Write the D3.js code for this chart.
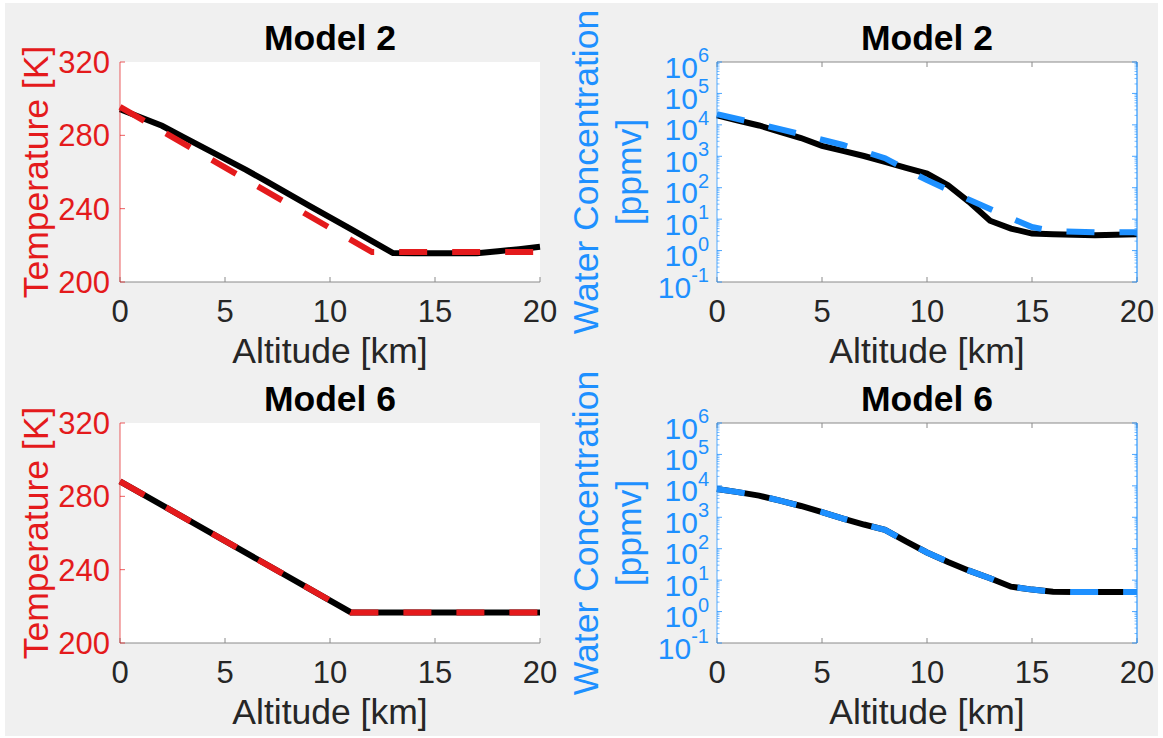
<!DOCTYPE html>
<html><head><meta charset="utf-8">
<script src="https://cdn.jsdelivr.net/npm/d3@7"></script>
<style>
body{margin:0;background:#fff}
svg{display:block}
text{font-family:"Liberation Sans",Arial,Helvetica,sans-serif}
</style>
</head><body>
<svg id="c" width="1163" height="738"></svg>
<script>
// ---------- data ----------
const altitudeTicks = [0, 5, 10, 15, 20];
const tempTicks = [200, 240, 280, 320];
const waterTickExps = [-1, 0, 1, 2, 3, 4, 5, 6];
const panelTitles = ["Model 2", "Model 6"];

// Model 2 temperature
const m2TempAlt = [0,1,2,3,4,5,6,7,8,9,10,11,12,13,14,15,16,17,18,19,20];
const m2TempModel = [294.2,289.7,285.2,279.2,273.2,267.2,261.2,254.7,248.2,241.7,235.3,228.8,222.3,215.8,215.7,215.7,215.7,215.7,216.8,217.9,219.2];
const m2TempFitAlt = [0, 12, 20];
const m2TempFit = [295.5, 216.3, 216.3];

// Model 6 temperature
const m6TempAlt = [0, 11, 20];
const m6TempModel = [288.2, 216.7, 216.7];
const m6TempFit = [288.2, 216.7, 216.7];

// Model 2 water (ppmv)
const m2WaterAlt = [0,1,2,3,4,5,6,7,8,9,10,11,12,13,14,15,16,17,18,19,20];
const m2WaterModel = [20000,13800,9550,6030,3800,2140,1480,1020,660,427,282,120,35.5,8.9,5.0,3.47,3.31,3.16,3.09,3.16,3.31];
const m2WaterFitAlt = [0,2,4,6,8,9,10,12,14,15,16,18,20];
const m2WaterFit = [21900,10700,5000,2290,870,380,174,41.7,10.7,5.6,4.2,3.8,3.8];

// Model 6 water (ppmv)
const m6WaterAlt = [0,1,2,3,4,5,6,7,8,9,10,11,12,13,14,15,16,17,18,19,20];
const m6WaterModel = [7940,6310,4900,3390,2290,1450,912,589,398,170,76,38,20,11.5,6.2,5.0,4.3,4.2,4.2,4.2,4.2];
const m6WaterFit = [7940,6310,4900,3390,2290,1450,912,589,398,170,76,38,20,11.5,6.2,5.0,4.3,4.2,4.2,4.2,4.2];

// ---------- style ----------
const RED = "#e41a1c", BLUE = "#1e90ff", AX = "#8a8a8a", TXT = "#262626";
const LW = 6, DASH = "28 25";
const TICK_FS = 31, LABEL_FS = 35.5, TITLE_FS = 35.5;

const svg = d3.select("#c");
svg.append("rect").attr("x",5).attr("y",3).attr("width",1153).attr("height",733).attr("fill","#f0f0f0");

const cols = [{x0:120,x1:540},{x0:717,x1:1137}];
const rows = [{y0:62,y1:282},{y0:423,y1:643}];

function xAxisCommon(g, x, y0, y1, withTop){
  g.append("line").attr("x1",x.range()[0]).attr("x2",x.range()[1]).attr("y1",y1).attr("y2",y1)
    .attr("stroke",AX).attr("stroke-width",1);
  altitudeTicks.forEach(t=>{
    g.append("line").attr("x1",x(t)).attr("x2",x(t)).attr("y1",y1).attr("y2",y1-5).attr("stroke",AX);
    g.append("text").attr("x",x(t)).attr("y",y1+39.5).attr("text-anchor","middle")
      .attr("font-size",TICK_FS).attr("fill",TXT).text(t);
    if(withTop){
      g.append("line").attr("x1",x(t)).attr("x2",x(t)).attr("y1",y0).attr("y2",y0+5).attr("stroke",AX);
    }
  });
  if(withTop){
    g.append("line").attr("x1",x.range()[0]).attr("x2",x.range()[1]).attr("y1",y0).attr("y2",y0)
      .attr("stroke",AX).attr("stroke-width",1);
  }
  g.append("text").attr("x",(x.range()[0]+x.range()[1])/2).attr("y",y1+81).attr("text-anchor","middle")
    .attr("font-size",LABEL_FS).attr("fill",TXT).text("Altitude [km]");
}

function title(g, x, y0, t){
  g.append("text").attr("x",(x.range()[0]+x.range()[1])/2).attr("y",y0-12).attr("text-anchor","middle")
    .attr("font-size",TITLE_FS).attr("font-weight","bold").attr("fill","#000").text(t);
}

function drawLine(g, x, y, alts, vals, color, dashed){
  const line = d3.line().x((d,i)=>x(alts[i])).y(d=>y(d));
  g.append("path").datum(vals).attr("d",line).attr("fill","none").attr("stroke",color)
    .attr("stroke-width",LW).attr("stroke-linejoin","miter").attr("stroke-linecap","butt")
    .attr("stroke-dasharray",dashed?DASH:null);
}

function tempPanel(row, t, series){
  const {x0,x1} = cols[0]; const {y0,y1} = rows[row];
  const g = svg.append("g");
  g.append("rect").attr("x",x0).attr("y",y0).attr("width",x1-x0).attr("height",y1-y0).attr("fill","#fff");
  const x = d3.scaleLinear().domain([0,20]).range([x0,x1]);
  const y = d3.scaleLinear().domain([200,320]).range([y1,y0]);
  drawLine(g,x,y,series.altM,series.model,"#000",false);
  drawLine(g,x,y,series.altF,series.fit,RED,true);
  xAxisCommon(g,x,y0,y1,false);
  g.append("line").attr("x1",x0).attr("x2",x0).attr("y1",y0).attr("y2",y1).attr("stroke",RED).attr("stroke-opacity",0.7);
  tempTicks.forEach(v=>{
    g.append("line").attr("x1",x0).attr("x2",x0+5).attr("y1",y(v)).attr("y2",y(v)).attr("stroke",RED).attr("stroke-opacity",0.7);
    g.append("text").attr("x",x0-10).attr("y",y(v)+11).attr("text-anchor","end")
      .attr("font-size",TICK_FS).attr("fill",RED).text(v);
  });
  g.append("text").attr("transform",`translate(47.5,${(y0+y1)/2}) rotate(-90)`).attr("text-anchor","middle")
    .attr("font-size",LABEL_FS).attr("fill",RED).text("Temperature [K]");
  title(g,x,y0,t);
}

function waterPanel(row, t, series){
  const {x0,x1} = cols[1]; const {y0,y1} = rows[row];
  const g = svg.append("g");
  g.append("rect").attr("x",x0).attr("y",y0).attr("width",x1-x0).attr("height",y1-y0).attr("fill","#fff");
  const x = d3.scaleLinear().domain([0,20]).range([x0,x1]);
  const y = d3.scaleLog().domain([0.1,1e6]).range([y1,y0]);
  drawLine(g,x,y,series.altM,series.model,"#000",false);
  drawLine(g,x,y,series.altF,series.fit,BLUE,true);
  xAxisCommon(g,x,y0,y1,true);
  [x0,x1].forEach((xx,k)=>{
    const dir = k===0?1:-1;
    g.append("line").attr("x1",xx).attr("x2",xx).attr("y1",y0).attr("y2",y1).attr("stroke",BLUE)
      .attr("stroke-width",k===0?1:1.5).attr("stroke-opacity",0.75);
    waterTickExps.forEach(e=>{
      const v = Math.pow(10,e);
      g.append("line").attr("x1",xx).attr("x2",xx+dir*5).attr("y1",y(v)).attr("y2",y(v)).attr("stroke",BLUE).attr("stroke-opacity",0.8);
      if(e<6){
        for(let m=2;m<=9;m++){
          g.append("line").attr("x1",xx).attr("x2",xx+dir*2.5).attr("y1",y(m*v)).attr("y2",y(m*v))
            .attr("stroke",BLUE).attr("stroke-opacity",0.6);
        }
      }
    });
  });
  waterTickExps.forEach(e=>{
    const v = Math.pow(10,e);
    const tx = g.append("text").attr("x",x0-8).attr("y",y(v)+15.5).attr("text-anchor","end").attr("fill",BLUE);
    tx.append("tspan").attr("font-size",TICK_FS-1).text("10");
    tx.append("tspan").attr("font-size",20).attr("dy",-15.5).text(String(e));
  });
  const yl = g.append("text").attr("transform",`translate(0,${(y0+y1)/2}) rotate(-90)`).attr("text-anchor","middle")
    .attr("font-size",LABEL_FS).attr("fill",BLUE);
  yl.append("tspan").attr("x",0).attr("y",597.5).text("Water Concentration");
  yl.append("tspan").attr("x",0).attr("y",641).text("[ppmv]");
  title(g,x,y0,t);
}

tempPanel(0, panelTitles[0], {altM:m2TempAlt, model:m2TempModel, altF:m2TempFitAlt, fit:m2TempFit});
tempPanel(1, panelTitles[1], {altM:m6TempAlt, model:m6TempModel, altF:m6TempAlt, fit:m6TempFit});
waterPanel(0, panelTitles[0], {altM:m2WaterAlt, model:m2WaterModel, altF:m2WaterFitAlt, fit:m2WaterFit});
waterPanel(1, panelTitles[1], {altM:m6WaterAlt, model:m6WaterModel, altF:m6WaterAlt, fit:m6WaterFit});
</script>
</body></html>
